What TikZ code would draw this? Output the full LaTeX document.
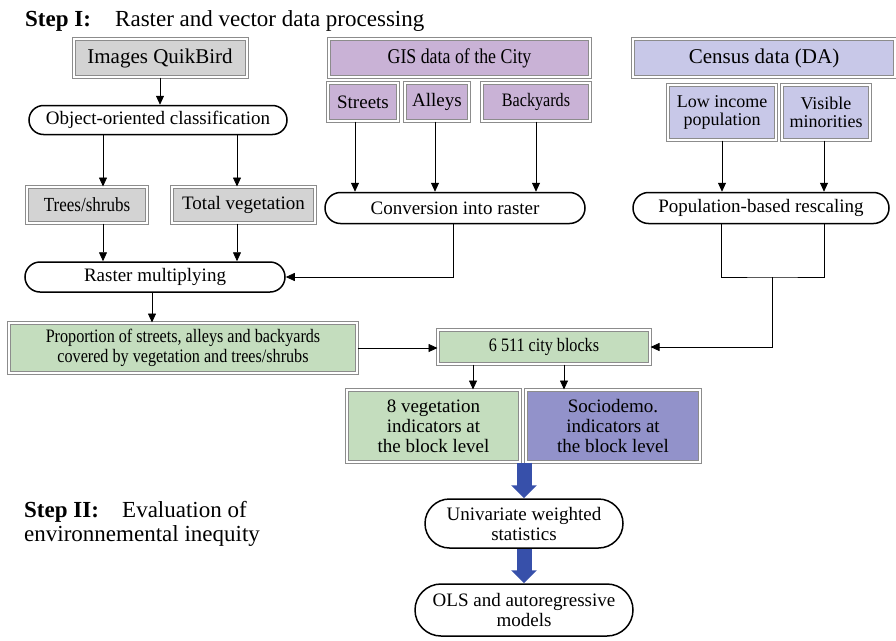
\documentclass[tikz,border=0pt]{standalone}
\usepackage{fontspec}
\setmainfont{Liberation Serif}
\newfontfamily\narrowfont[FakeStretch=0.85]{Liberation Serif}
\usetikzlibrary{arrows.meta,shapes.misc}

\definecolor{boxline}{HTML}{8C8C8C}
\definecolor{sourcegray}{HTML}{D3D3D3}
\definecolor{gispurple}{HTML}{C9B2D6}
\definecolor{censusblue}{HTML}{C8C8E8}
\definecolor{veggreen}{HTML}{C4DDBE}
\definecolor{sociopurple}{HTML}{9292CA}
\definecolor{arrowblue}{HTML}{3750AA}

\begin{document}
\begin{tikzpicture}[x=1pt, y=-1pt,
    every node/.style={anchor=center, align=center, inner sep=0pt, font=\fontsize{19}{20}\selectfont},
    box/.style={draw=boxline, double=white, double distance=2pt, line width=1pt},
    source/.style={box, fill=sourcegray},
    gis/.style={box, fill=gispurple},
    census/.style={box, fill=censusblue},
    veg/.style={box, fill=veggreen},
    socio/.style={box, fill=sociopurple},
    process/.style={rounded rectangle, draw, line width=1.5pt, fill=white},
    heading/.style={anchor=base west, font=\fontsize{23}{24}\selectfont},
    narrow/.style={font=\narrowfont\fontsize{19}{20}\selectfont},
    arrow/.style={-{Triangle[length=9pt,width=8pt]}, line width=0.8pt},
    bigarrow/.style={-{Triangle[length=13pt,width=25pt]}, line width=15pt, draw=arrowblue}
    ]
\useasboundingbox (0,0) rectangle (896,640);

% Headings
\node[heading] (step one) at (25,26) {\textbf{Step I:}};
\node[heading] (step one text) at (115,26) {Raster and vector data processing};
\node[heading] (step two) at (24,517) {\textbf{Step II:}};
\node[heading] (step two text) at (122,517) {Evaluation of};
\node[heading] (step two text2) at (24,541) {environnemental inequity};

% Raster column
\node[source, minimum width=173pt, minimum height=38pt, font=\fontsize{21}{22}\selectfont] (images) at (160,58) {Images QuikBird};
\node[process, minimum width=258pt, minimum height=29pt] (classif) at (158,120) {Object-oriented classification};
\node[source, narrow, font=\narrowfont\fontsize{20}{21}\selectfont, minimum width=120pt, minimum height=36pt] (trees) at (87,205) {Trees/shrubs};
\node[source, minimum width=143pt, minimum height=36pt] (totalveg) at (243.5,205) {Total vegetation};
\node[process, minimum width=260pt, minimum height=30pt] (rastermult) at (155,277) {Raster multiplying};

% GIS column
\node[gis, font=\narrowfont\fontsize{21}{22}\selectfont, minimum width=261pt, minimum height=38pt] (gisdata) at (459.5,58) {GIS data of the City};
\node[gis, minimum width=70pt, minimum height=38pt] (streets) at (363,102) {Streets};
\node[gis, minimum width=64pt, minimum height=38pt] (alleys) at (437,102) {Alleys};
\node[gis, narrow, minimum width=108pt, minimum height=38pt] (backyards) at (536,102) {Backyards};
\node[process, minimum width=260pt, minimum height=31pt] (conv) at (455,208) {Conversion into raster};

% Census column
\node[census, minimum width=262pt, minimum height=38pt, font=\fontsize{21}{22}\selectfont] (census) at (764,58) {Census data (DA)};
\node[census, font=\fontsize{18}{18}\selectfont, minimum width=108pt, minimum height=55pt] (lowinc) at (722,112.5) {Low income\\population};
\node[census, font=\fontsize{18}{18}\selectfont, minimum width=88pt, minimum height=55pt] (visible) at (826,112.5) {Visible\\minorities};
\node[process, minimum width=256pt, minimum height=31pt] (rescale) at (761,208) {Population-based rescaling};
\coordinate (join) at (772,277);

% Block level
\node[veg, narrow, minimum width=348pt, minimum height=50pt] (prop) at (183,348) {Proportion of streets, alleys and backyards\\covered by vegetation and trees/shrubs};
\node[veg, narrow, minimum width=212pt, minimum height=34pt] (blocks) at (544,347) {6 511 city blocks};
\node[veg, minimum width=173pt, minimum height=72pt] (indveg) at (433.5,426) {8 vegetation\\indicators at\\the block level};
\node[socio, minimum width=174pt, minimum height=72pt] (indsocio) at (613,426) {Sociodemo.\\indicators at\\the block level};

% Step II
\node[process, minimum width=198pt, minimum height=49pt] (univ) at (524,523.5) {Univariate weighted\\statistics};
\node[process, minimum width=218pt, minimum height=52pt] (ols) at (524,610) {OLS and autoregressive\\models};

% Arrows
\draw[arrow] (images.south) -- (images.south |- classif.north);
\draw[arrow] ([xshift=16pt]trees.north |- classif.south) -- ([xshift=16pt]trees.north);
\draw[arrow] ([xshift=-6.5pt]totalveg.north |- classif.south) -- ([xshift=-6.5pt]totalveg.north);
\draw[arrow] ([xshift=16pt]trees.south) -- ([xshift=16pt]trees.south |- rastermult.north);
\draw[arrow] ([xshift=-6.5pt]totalveg.south) -- ([xshift=-6.5pt]totalveg.south |- rastermult.north);
\draw[arrow] ([xshift=-8pt]streets.south) -- ([xshift=-8pt]streets.south |- conv.north);
\draw[arrow] ([xshift=-2pt]alleys.south) -- ([xshift=-2pt]alleys.south |- conv.north);
\draw[arrow] (backyards.south) -- (backyards.south |- conv.north);
\draw[arrow] ([xshift=-2pt]conv.south) |- (rastermult.east);
\draw[arrow] ([xshift=-3pt]rastermult.south) -- ([xshift=-3pt]rastermult.south |- prop.north);
\draw[arrow] (lowinc.south) -- (lowinc.south |- rescale.north);
\draw[arrow] ([xshift=-2pt]visible.south) -- ([xshift=-2pt]visible.south |- rescale.north);
\draw[line width=0.8pt] ([xshift=-40pt]rescale.south) |- (join) -| ([xshift=63pt]rescale.south);
\draw[arrow] (join) |- (blocks.east);
\draw[arrow] (prop.east) -- (prop.east -| blocks.west);
\draw[arrow] ([xshift=-71pt]blocks.south) -- ([xshift=-71pt]blocks.south |- indveg.north);
\draw[arrow] ([xshift=20pt]blocks.south) -- ([xshift=20pt]blocks.south |- indsocio.north);
\draw[bigarrow] (univ.north |- indveg.south) -- (univ.north);
\draw[bigarrow] (univ.south) -- (ols.north);

\end{tikzpicture}
\end{document}
